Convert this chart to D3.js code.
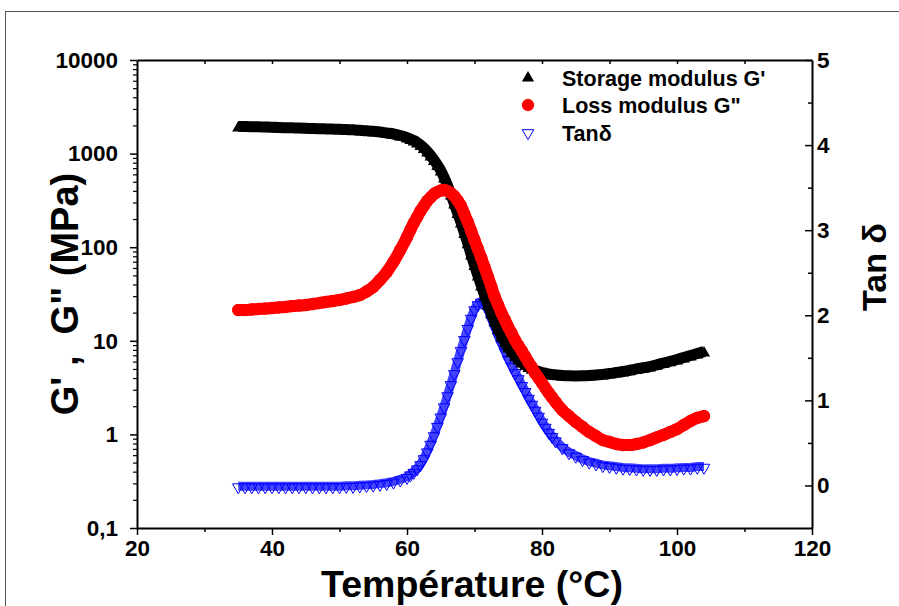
<!DOCTYPE html>
<html>
<head>
<meta charset="utf-8">
<script src="https://cdn.jsdelivr.net/npm/d3@7"></script>
<style>
    body { margin: 0; background: #fff; }
    text { font-family: "Liberation Sans", Arial, sans-serif; font-weight: bold; fill: #000; }
</style>
</head>
<body>
<script>
// temperature (°C) of each measurement
var temps = [35, 36, 37, 38, 39, 40, 41, 42, 43, 44, 45, 46, 47, 48, 49, 50, 51, 52, 53, 54, 55, 56, 57, 58, 59, 60,
    60.5, 61, 61.5, 62, 62.5, 63, 63.5, 64, 64.5, 65, 65.5, 66, 66.5, 67, 67.5, 68, 68.5, 69, 69.5, 70, 70.5, 71, 71.5,
    72, 72.5, 73, 73.5, 74, 74.5, 75, 75.5, 76, 76.5, 77, 77.5, 78, 78.5, 79, 79.5, 80, 80.5, 81, 81.5, 82,
    83, 84, 85, 86, 87, 88, 89, 90, 91, 92, 93, 94, 95, 96, 97, 98, 99, 100, 101, 102, 103, 104];

// storage modulus G' (MPa)
var storage = [1878, 1876, 1870, 1862, 1853, 1845, 1832, 1823, 1815, 1807, 1798, 1787, 1778, 1770, 1762, 1754, 1741, 1728, 1711, 1694, 1668, 1640, 1600, 1562, 1504, 1432,
    1380, 1330, 1267, 1191, 1106, 1015, 920, 824, 728, 636, 535, 440, 352, 282, 223, 177, 137, 106, 80.5, 62.2, 48.1, 37.6, 29.4,
    23.5, 18.9, 15.5, 12.9, 10.8, 9.35, 8.17, 7.31, 6.63, 6.09, 5.65, 5.31, 5.06, 4.84, 4.67, 4.53, 4.42, 4.34, 4.26, 4.21, 4.17,
    4.10, 4.07, 4.06, 4.07, 4.10, 4.15, 4.22, 4.31, 4.42, 4.53, 4.67, 4.82, 4.97, 5.12, 5.34, 5.58, 5.82, 6.09, 6.39, 6.71, 7.04, 7.39];

// loss modulus G'' (MPa)
var loss = [21.3, 21.3, 21.6, 21.9, 22.1, 22.4, 22.7, 23.0, 23.5, 23.8, 24.1, 24.7, 25.3, 26.0, 26.6, 27.3, 28.3, 29.4, 30.8, 33.6, 37.6, 44.7, 54.3, 69.5, 93.4, 128,
    153, 181, 210, 244, 276, 312, 340, 370, 389, 403, 408, 398, 379, 352, 315, 276, 226, 186, 149, 119, 95.7, 76.7, 60.7,
    48.1, 37.6, 29.4, 24.1, 19.8, 16.7, 14.0, 12.0, 10.2, 8.9, 7.8, 6.8, 5.9, 5.2, 4.5, 4.0, 3.54, 3.13, 2.77, 2.48, 2.22,
    1.82, 1.57, 1.36, 1.20, 1.06, 0.96, 0.87, 0.83, 0.79, 0.77, 0.77, 0.79, 0.82, 0.87, 0.93, 0.99, 1.06, 1.14, 1.26, 1.39, 1.50, 1.57];

// tan delta
var tanDelta = [-0.02, -0.02, -0.02, -0.02, -0.02, -0.02, -0.02, -0.02, -0.02, -0.02, -0.02, -0.02, -0.02, -0.02, -0.02, -0.02, -0.015, -0.015, -0.01, -0.005, 0.0, 0.01, 0.02, 0.035, 0.06, 0.09,
    0.12, 0.15, 0.19, 0.24, 0.31, 0.39, 0.48, 0.58, 0.69, 0.80, 0.92, 1.05, 1.18, 1.31, 1.45, 1.58, 1.71, 1.84, 1.96, 2.06, 2.12, 2.15, 2.13,
    2.05, 1.95, 1.85, 1.75, 1.66, 1.57, 1.48, 1.40, 1.32, 1.25, 1.17, 1.10, 1.02, 0.95, 0.88, 0.81, 0.74, 0.68, 0.62, 0.57, 0.52,
    0.44, 0.38, 0.34, 0.30, 0.27, 0.25, 0.23, 0.22, 0.21, 0.20, 0.195, 0.19, 0.185, 0.185, 0.185, 0.19, 0.19, 0.195, 0.20, 0.20, 0.21, 0.21];

var xTicks = [20, 40, 60, 80, 100, 120];
var xMinor = [30, 50, 70, 90, 110];
var xTop = [30, 40, 50, 60, 70, 80, 90, 100, 110];
var yLeftTicks = [0.1, 1, 10, 100, 1000, 10000];
var yRightTicks = [0, 1, 2, 3, 4, 5];
var yRightMinor = [0.5, 1.5, 2.5, 3.5, 4.5];
var legendNames = ["Storage modulus G'", 'Loss modulus G"', "Tan\u03b4"];

var width = 899,
    height = 606;

var x = d3.scaleLinear().domain([20, 120]).range([137, 812]);
var yL = d3.scaleLog().domain([0.1, 10000]).range([528, 60]);
var yR = d3.scaleLinear().domain([-0.5, 5]).range([528, 60]);

var svg = d3.select("body").append("svg")
    .attr("width", width)
    .attr("height", height);

// outer frame of the figure
svg.append("rect")
    .attr("x", 5.5).attr("y", 11.5)
    .attr("width", 1000).attr("height", 1000)
    .attr("fill", "none").attr("stroke", "#555").attr("stroke-width", 1);

var data = temps.map(function(t, i) {
    return {t: t, g1: storage[i], g2: loss[i], tan: tanDelta[i]};
});

var triUp = d3.symbol().type(d3.symbolTriangle).size(64);
var circ = d3.symbol().type(d3.symbolCircle).size(120);
var triDown = d3.symbol().type(d3.symbolTriangle).size(58);

// tan delta band + markers
var plot = svg.append("g");
plot.append("path")
    .datum(data)
    .attr("fill", "none")
    .attr("stroke", "#1515ff")
    .attr("stroke-opacity", 0.8)
    .attr("stroke-width", 9)
    .attr("d", d3.line().curve(d3.curveMonotoneX)
        .x(function(d) { return x(d.t); })
        .y(function(d) { return yR(d.tan) - 1; }));
plot.append("g").selectAll("path")
    .data(data)
    .enter().append("path")
    .attr("transform", function(d) { return "translate(" + x(d.t) + "," + yR(d.tan) + ") rotate(180)"; })
    .attr("d", triDown)
    .attr("fill", "none")
    .attr("stroke", "#0000ff")
    .attr("stroke-width", 1);

// storage modulus
plot.append("path")
    .datum(data)
    .attr("fill", "none")
    .attr("stroke", "#000")
    .attr("stroke-width", 11)
    .attr("d", d3.line().curve(d3.curveMonotoneX)
        .x(function(d) { return x(d.t); })
        .y(function(d) { return yL(d.g1) - 1.5; }));
plot.append("g").selectAll("path")
    .data(data)
    .enter().append("path")
    .attr("transform", function(d) { return "translate(" + x(d.t) + "," + yL(d.g1) + ")"; })
    .attr("d", triUp)
    .attr("fill", "#000");

// loss modulus
plot.append("path")
    .datum(data)
    .attr("fill", "none")
    .attr("stroke", "#ff0000")
    .attr("stroke-width", 12)
    .attr("stroke-linecap", "round")
    .attr("d", d3.line().curve(d3.curveMonotoneX)
        .x(function(d) { return x(d.t); })
        .y(function(d) { return yL(d.g2); }));
plot.append("g").selectAll("path")
    .data(data)
    .enter().append("path")
    .attr("transform", function(d) { return "translate(" + x(d.t) + "," + yL(d.g2) + ")"; })
    .attr("d", circ)
    .attr("fill", "#ff0000");

// axes
var axisStyle = function(g) {
    g.select(".domain").attr("stroke-width", 2);
    g.selectAll(".tick line").attr("stroke-width", 1.5);
    g.selectAll(".tick text").attr("font-size", 22.5).attr("font-family", null);
};

svg.append("g")
    .attr("transform", "translate(0,528)")
    .call(d3.axisBottom(x).tickValues(xTicks).tickSize(7).tickSizeOuter(0).tickPadding(5))
    .call(axisStyle);
svg.append("g")
    .attr("transform", "translate(0,528)")
    .call(d3.axisBottom(x).tickValues(xMinor).tickSize(4).tickSizeOuter(0).tickFormat(""))
    .call(function(g) { g.select(".domain").remove(); g.selectAll("line").attr("stroke-width", 1.5); });

svg.append("g")
    .attr("transform", "translate(0,60)")
    .call(d3.axisBottom(x).tickValues(xTop).tickSize(4).tickSizeOuter(0).tickFormat(""))
    .call(function(g) { g.select(".domain").attr("stroke-width", 2); g.selectAll("line").attr("stroke-width", 1.5); });

var minorLog = [];
yLeftTicks.slice(0, -1).forEach(function(v) {
    for (var k = 2; k < 10; k++) minorLog.push(v * k);
});

svg.append("g")
    .attr("transform", "translate(137,0)")
    .call(d3.axisLeft(yL).tickValues(yLeftTicks).tickSize(7).tickSizeOuter(0).tickPadding(12)
        .tickFormat(function(d) { return d < 1 ? "0,1" : d3.format("d")(d); }))
    .call(axisStyle);
svg.append("g")
    .attr("transform", "translate(137,0)")
    .call(d3.axisLeft(yL).tickValues(minorLog).tickSize(4).tickSizeOuter(0).tickFormat(""))
    .call(function(g) { g.select(".domain").remove(); g.selectAll("line").attr("stroke-width", 1.2); });

svg.append("g")
    .attr("transform", "translate(812,0)")
    .call(d3.axisRight(yR).tickValues(yRightTicks).tickSizeInner(-7).tickSizeOuter(0).tickPadding(5)
        .tickFormat(d3.format("d")))
    .call(axisStyle);
svg.append("g")
    .attr("transform", "translate(812,0)")
    .call(d3.axisRight(yR).tickValues(yRightMinor).tickSizeInner(-4).tickSizeOuter(0).tickFormat(""))
    .call(function(g) { g.select(".domain").remove(); g.selectAll("line").attr("stroke-width", 1.5); });

// axis titles
svg.append("text")
    .attr("x", 472).attr("y", 597)
    .attr("text-anchor", "middle")
    .attr("font-size", 37.5)
    .text("Température (°C)");

svg.append("text")
    .attr("transform", "translate(78,294) rotate(-90)")
    .attr("text-anchor", "middle")
    .attr("font-size", 38)
    .style("white-space", "pre")
    .text("G' ,  G\" (MPa)");

svg.append("text")
    .attr("transform", "translate(886,267) rotate(-90)")
    .attr("text-anchor", "middle")
    .attr("font-size", 34)
    .text("Tan \u03b4");

// legend
var legend = svg.append("g").attr("transform", "translate(528,78)");
var legendRow = legend.selectAll("g")
    .data(legendNames)
    .enter().append("g")
    .attr("transform", function(d, i) { return "translate(0," + [0, 27, 55][i] + ")"; });
legendRow.append("path")
    .attr("d", function(d, i) { return [triUp, circ, triDown][i](); })
    .attr("transform", function(d, i) { return i === 2 ? "rotate(180)" : null; })
    .attr("fill", function(d, i) { return ["#000", "#ff0000", "none"][i]; })
    .attr("stroke", function(d, i) { return i === 2 ? "#0000ff" : "none"; });
legendRow.append("text")
    .attr("x", 34).attr("y", 7.5)
    .attr("font-size", 21.5)
    .text(function(d) { return d; });
</script>
</body>
</html>
